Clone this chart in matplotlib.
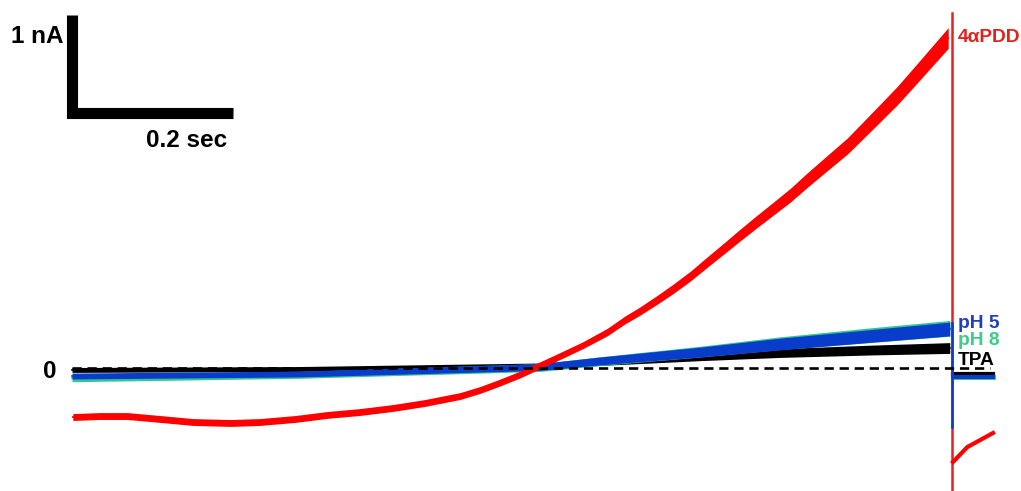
import matplotlib
matplotlib.use("Agg")
import matplotlib.pyplot as plt
import numpy as np

plt.rcParams['font.family'] = ['Liberation Sans', 'DejaVu Sans']

# ---- data (time in s, current in nA) ----
red_t = [0.001, 0.035, 0.069, 0.110, 0.151, 0.198, 0.235, 0.279, 0.319, 0.360,
         0.401, 0.441, 0.485, 0.510, 0.535, 0.560, 0.583, 0.610, 0.639, 0.669,
         0.691, 0.710, 0.731, 0.751, 0.773, 0.794, 0.814, 0.835, 0.856, 0.876,
         0.898, 0.919, 0.944, 0.969, 0.989, 1.010, 1.031, 1.051, 1.073, 1.095]
red_i = [-0.495, -0.485, -0.485, -0.515, -0.546, -0.556, -0.546, -0.515, -0.474, -0.444,
         -0.403, -0.352, -0.281, -0.219, -0.143, -0.061, 0.026, 0.128, 0.240, 0.372,
         0.495, 0.587, 0.699, 0.811, 0.944, 1.087, 1.220, 1.362, 1.500, 1.628,
         1.770, 1.923, 2.097, 2.270, 2.434, 2.607, 2.781, 2.964, 3.168, 3.372]
red_noise = [0.035, 0.035, 0.035, 0.035, 0.035, 0.035, 0.035, 0.035, 0.035, 0.035,
             0.035, 0.035, 0.035, 0.035, 0.035, 0.035, 0.035, 0.035, 0.035, 0.038,
             0.04, 0.042, 0.045, 0.048, 0.05, 0.053, 0.056, 0.06, 0.063, 0.066,
             0.07, 0.074, 0.078, 0.082, 0.086, 0.09, 0.094, 0.098, 0.102, 0.106]

ph5_t = [0.0, 0.285, 0.585, 0.660, 0.785, 0.885, 0.998, 1.097]
ph5_i = [-0.077, -0.056, 0.015, 0.077, 0.168, 0.250, 0.332, 0.403]
ph5_noise = [0.03, 0.03, 0.035, 0.04, 0.05, 0.06, 0.065, 0.07]

ph8_t = [0.0, 0.285, 0.585, 0.660, 0.785, 0.885, 0.998, 1.097]
ph8_i = [-0.100, -0.065, 0.010, 0.075, 0.172, 0.258, 0.340, 0.410]
ph8_noise = [0.035, 0.035, 0.04, 0.045, 0.055, 0.065, 0.075, 0.08]

tpa_t = [0.0, 0.285, 0.585, 0.660, 0.785, 0.885, 0.998, 1.097]
tpa_i = [-0.015, -0.005, 0.026, 0.066, 0.120, 0.158, 0.188, 0.209]
tpa_noise = [0.025, 0.025, 0.03, 0.035, 0.04, 0.045, 0.05, 0.055]

# after the step
step_t = 1.100
post_t = [1.101, 1.119, 1.135, 1.151]
red_post = [-0.954, -0.801, -0.730, -0.658]
red_step = [3.63, -1.30]
ph5_post = [-0.09, -0.09, -0.09, -0.09]
ph5_step = [0.464, -0.597]
ph8_post = [-0.085, -0.085, -0.085, -0.085]
tpa_post = [-0.06, -0.06, -0.06, -0.06]

zero_end = 1.1475
scale_t = 0.2
scale_i = 1.0

labels = ['4αPDD', 'pH 5', 'pH 8', 'TPA']
label_i = [3.33, 0.413, 0.24, 0.036]
label_colors = ['#e3211c', '#1f3fbf', '#3dcc8a', '#000000']

RED = '#ff0000'
BLUE = '#0a3ccc'
GREEN = '#2fc98c'
BLACK = '#000000'

fig = plt.figure(figsize=(10.21, 4.91), dpi=100)
ax = fig.add_axes([0, 0, 1, 1])
ax.set_xlim(-0.09, 1.186)
ax.set_ylim(-1.25, 3.76)
ax.axis('off')


def trace(t, i, s, color, lw=1.2, z=2):
    t = np.asarray(t); i = np.asarray(i); s = np.asarray(s)
    ax.fill_between(t, i - s, i + s, color=color, lw=0, zorder=z)
    ax.plot(t, i, color=color, lw=lw, zorder=z)

trace(tpa_t, tpa_i, tpa_noise, BLACK, z=2)
trace(ph8_t, ph8_i, ph8_noise, GREEN, z=3)
trace(ph5_t, ph5_i, ph5_noise, BLUE, z=4)
trace(red_t, red_i, red_noise, RED, z=5)

# step transients
ax.plot([step_t, step_t], red_step, color='#e8201c', lw=1.8, zorder=5)
ax.plot([step_t, step_t], ph5_step, color=BLUE, lw=1.8, zorder=6)

# post-step segments
ax.plot(post_t, tpa_post, color=BLACK, lw=3, zorder=2)
ax.plot(post_t, ph8_post, color=GREEN, lw=3.5, zorder=3)
ax.plot(post_t, ph5_post, color=BLUE, lw=3, zorder=4)
ax.plot(post_t, red_post, color=RED, lw=3, zorder=5)

# zero dashed line
ax.plot([0, zero_end], [0, 0], color='black', lw=1.9, ls=(0, (3.5, 2.2)), zorder=7)

# scale bar
x0, y0 = 0.0006, 2.612
ax.plot([x0, x0, x0 + scale_t], [y0 + scale_i, y0, y0], color='black', lw=8,
        solid_joinstyle='miter', solid_capstyle='butt', zorder=8)
ax.text(x0 - 0.011, 3.32, '1 nA', ha='right', va='baseline', fontsize=17.5, fontweight='bold')
ax.text(x0 + scale_t - 0.007, 2.26, '0.2 sec', ha='right', va='baseline', fontsize=17.5, fontweight='bold')
ax.text(-0.0275, -0.097, '0', ha='center', va='baseline', fontsize=17.5, fontweight='bold')

for lab, yi, c in zip(labels, label_i, label_colors):
    ax.text(1.1075, yi, lab, ha='left', va='baseline', fontsize=13.8, fontweight='bold', color=c)

fig.savefig('out.png', dpi=100)
